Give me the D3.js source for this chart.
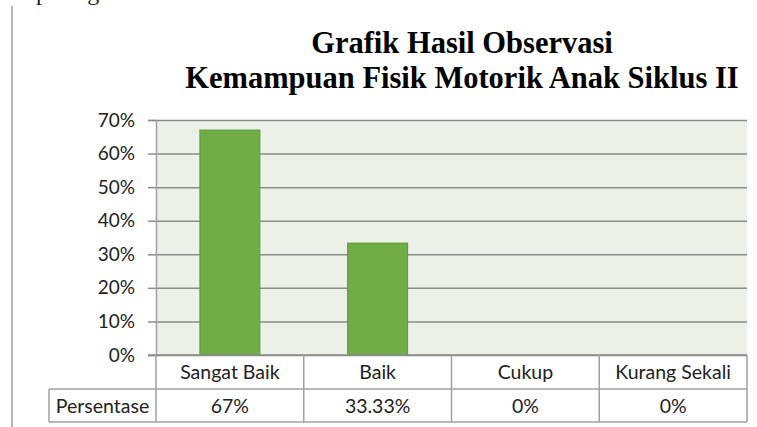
<html>
<head>
<meta charset="utf-8">
<script src="https://d3js.org/d3.v7.min.js"></script>
<style>
  body { margin: 0; background: #fff; }
</style>
</head>
<body>
<div id="chartContainer"></div>
<script type="text/javascript">

  // data
  var categories = ["Sangat Baik", "Baik", "Cukup", "Kurang Sekali"];
  var values = [0.67, 0.3333, 0, 0];
  var tableLabels = ["67%", "33.33%", "0%", "0%"];
  var rowHeader = "Persentase";
  var yTicks = [0, 0.1, 0.2, 0.3, 0.4, 0.5, 0.6, 0.7];
  var titleLines = ["Grafik Hasil Observasi", "Kemampuan Fisik Motorik Anak Siklus II"];

  function draw() {
    var W = 757, H = 427;
    var svg = d3.select("#chartContainer").append("svg")
      .attr("width", W).attr("height", H);

    // text cut at the top of the page + page margin line
    svg.append("text")
      .attr("x", 36).attr("y", 0)
      .attr("font-family", "Liberation Serif, serif")
      .attr("font-size", "24px")
      .attr("fill", "#222")
      .text("pada grafik di bawah ini:");
    svg.append("line")
      .attr("x1", 12).attr("x2", 12).attr("y1", 6).attr("y2", H)
      .attr("stroke", "#b4b4b4").attr("stroke-width", 2);

    // title
    svg.selectAll("text.title")
      .data(titleLines)
      .enter()
      .append("text")
      .attr("class", "title")
      .attr("x", 462)
      .attr("y", function (d, i) { return 53 + i * 35; })
      .attr("text-anchor", "middle")
      .attr("font-family", "Liberation Serif, Times New Roman, serif")
      .attr("font-weight", "bold")
      .attr("font-size", "30.5px")
      .attr("fill", "#000")
      .text(function (d) { return d; });

    var pLeft = 156, pRight = 747, pTop = 120, pBottom = 355;
    var row1 = 389, row2 = 422, headLeft = 49;

    var x = d3.scaleBand().domain(categories).range([pLeft, pRight])
      .paddingInner(0.594).paddingOuter(0.297);
    var col = d3.scaleBand().domain(categories).range([pLeft, pRight]).padding(0);
    var y = d3.scaleLinear().domain([0, 0.7]).range([pBottom, pTop]);

    // plot background
    svg.append("rect")
      .attr("x", pLeft).attr("y", pTop)
      .attr("width", pRight - pLeft).attr("height", pBottom - pTop)
      .attr("fill", "#ebf0e8");

    // gridlines
    svg.append("g")
      .attr("transform", "translate(" + pLeft + ",0)")
      .call(d3.axisLeft(y).tickValues(yTicks).tickSize(-(pRight - pLeft)).tickFormat(""))
      .call(function (g) { g.select(".domain").remove(); })
      .selectAll("line")
      .attr("stroke", "#8c8c8c").attr("stroke-width", 1.5);

    // y axis with ticks and labels
    var yAxis = svg.append("g")
      .attr("transform", "translate(" + pLeft + ",0)")
      .call(d3.axisLeft(y).tickValues(yTicks).tickSize(8).tickPadding(13)
        .tickFormat(d3.format(".0%")));
    yAxis.select(".domain").attr("stroke", "#a0a0a0").attr("stroke-width", 1.5);
    yAxis.selectAll("line").attr("stroke", "#8c8c8c").attr("stroke-width", 1.5);
    yAxis.selectAll("text")
      .attr("font-family", "Lato, sans-serif")
      .attr("font-size", "19px")
      .attr("fill", "#222");

    // bars
    svg.selectAll("rect.bar")
      .data(values)
      .enter()
      .append("rect")
      .attr("class", "bar")
      .attr("x", function (d, i) { return x(categories[i]); })
      .attr("width", x.bandwidth())
      .attr("y", function (d) { return y(d); })
      .attr("height", function (d) { return y(0) - y(d); })
      .attr("fill", "#70ad47")
      .attr("stroke", "#5b9a37")
      .attr("stroke-width", 1)
      .style("display", function (d) { return d > 0 ? null : "none"; });

    // axis line at 0
    svg.append("line")
      .attr("x1", pLeft - 8).attr("x2", pRight).attr("y1", y(0)).attr("y2", y(0))
      .attr("stroke", "#8c8c8c").attr("stroke-width", 1.5);

    // data table
    var grid = "#a0a0a0";
    svg.append("line")
      .attr("x1", headLeft).attr("x2", pRight).attr("y1", row1).attr("y2", row1)
      .attr("stroke", grid).attr("stroke-width", 1.5);
    svg.append("line")
      .attr("x1", headLeft).attr("x2", pRight).attr("y1", row2).attr("y2", row2)
      .attr("stroke", grid).attr("stroke-width", 1.5);
    svg.append("line")
      .attr("x1", headLeft).attr("x2", headLeft).attr("y1", row1).attr("y2", row2)
      .attr("stroke", grid).attr("stroke-width", 1.5);
    svg.append("line")
      .attr("x1", pLeft).attr("x2", pLeft).attr("y1", pBottom).attr("y2", row2)
      .attr("stroke", grid).attr("stroke-width", 1.5);
    svg.selectAll("line.colsep")
      .data(categories)
      .enter()
      .append("line")
      .attr("class", "colsep")
      .attr("x1", function (d) { return col(d) + col.bandwidth(); })
      .attr("x2", function (d) { return col(d) + col.bandwidth(); })
      .attr("y1", pBottom).attr("y2", row2)
      .attr("stroke", grid).attr("stroke-width", 1.5);

    var cellFont = "Lato, sans-serif";
    svg.selectAll("text.cat")
      .data(categories)
      .enter()
      .append("text")
      .attr("class", "cat")
      .attr("x", function (d) { return col(d) + col.bandwidth() / 2; })
      .attr("y", (pBottom + row1) / 2)
      .attr("dy", "0.36em")
      .attr("text-anchor", "middle")
      .attr("font-family", cellFont)
      .attr("font-size", "19.5px")
      .attr("fill", "#222")
      .text(function (d) { return d; });

    svg.selectAll("text.val")
      .data(tableLabels)
      .enter()
      .append("text")
      .attr("class", "val")
      .attr("x", function (d, i) { return col(categories[i]) + col.bandwidth() / 2; })
      .attr("y", (row1 + row2) / 2)
      .attr("dy", "0.36em")
      .attr("text-anchor", "middle")
      .attr("font-family", cellFont)
      .attr("font-size", "19.5px")
      .attr("fill", "#222")
      .text(function (d) { return d; });

    svg.append("text")
      .attr("x", (headLeft + pLeft) / 2)
      .attr("y", (row1 + row2) / 2)
      .attr("dy", "0.36em")
      .attr("text-anchor", "middle")
      .attr("font-family", cellFont)
      .attr("font-size", "19.5px")
      .attr("fill", "#222")
      .text(rowHeader);
  }

  draw();
</script>
</body>
</html>
